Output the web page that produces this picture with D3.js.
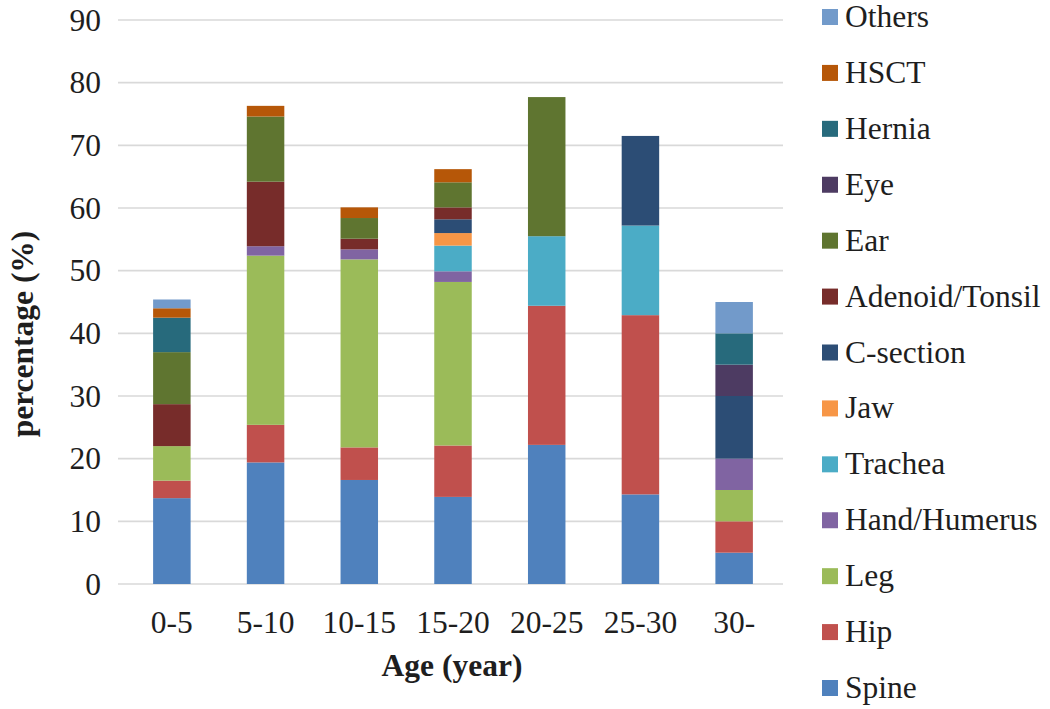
<!DOCTYPE html>
<html>
<head>
<meta charset="utf-8">
<script src="https://cdn.jsdelivr.net/npm/d3@7/dist/d3.min.js"></script>
<style>
  html, body { margin: 0; padding: 0; background: #fff; }
  svg { display: block; }
</style>
</head>
<body>
<svg id="chart" width="1050" height="709"></svg>
<script>
// ---- data (percent) ----
const categories = ["0-5", "5-10", "10-15", "15-20", "20-25", "25-30", "30-"];
const seriesNames = ["Spine", "Hip", "Leg", "Hand/Humerus", "Trachea", "Jaw", "C-section",
                     "Adenoid/Tonsil", "Ear", "Eye", "Hernia", "HSCT", "Others"];
const spine    = [13.7, 19.4, 16.6, 13.9, 22.2, 14.3, 5.0];
const hip      = [2.8, 6.0, 5.2, 8.2, 22.2, 28.6, 5.0];
const leg      = [5.5, 27.0, 30.0, 26.1, 0, 0, 5.0];
const hand     = [0, 1.5, 1.6, 1.7, 0, 0, 5.0];
const trachea  = [0, 0, 0, 4.1, 11.1, 14.3, 0];
const jaw      = [0, 0, 0, 2.0, 0, 0, 0];
const csection = [0, 0, 0, 2.2, 0, 14.3, 10.0];
const adenoid  = [6.7, 10.3, 1.7, 1.9, 0, 0, 0];
const ear      = [8.3, 10.4, 3.3, 4.0, 22.2, 0, 0];
const eye      = [0, 0, 0, 0, 0, 0, 5.0];
const hernia   = [5.5, 0, 0, 0, 0, 0, 5.0];
const hsct     = [1.5, 1.7, 1.7, 2.1, 0, 0, 0];
const others   = [1.4, 0, 0, 0, 0, 0, 5.0];
const yTicks   = [0, 10, 20, 30, 40, 50, 60, 70, 80, 90];

const seriesValues = [spine, hip, leg, hand, trachea, jaw, csection, adenoid, ear, eye, hernia, hsct, others];
const colors = ["#4F81BD", "#C0504D", "#9BBB59", "#8064A2", "#4BACC6", "#F79646", "#2C4D75",
                "#772C2A", "#5F7530", "#4D3B62", "#276A7C", "#B65708", "#729ACA"];

const rows = categories.map((c, i) => {
  const r = { cat: c };
  seriesNames.forEach((s, j) => r[s] = seriesValues[j][i]);
  return r;
});

const FONT = '"Liberation Serif", "Times New Roman", "Nimbus Roman", serif';
const FS = 31.5;
const TXT = "#1e1e1e";

const svg = d3.select("#chart");
const plotLeft = 118, plotRight = 783;

const x = d3.scaleBand().domain(categories).range([125, 781]).paddingInner(0.6).paddingOuter(0.3);
const y = d3.scaleLinear().domain([0, 90]).range([584, 20]);
const color = d3.scaleOrdinal().domain(seriesNames).range(colors);

// gridlines
svg.append("g").selectAll("line").data(yTicks).join("line")
  .attr("x1", plotLeft).attr("x2", plotRight)
  .attr("y1", d => y(d)).attr("y2", d => y(d))
  .attr("stroke", "#d9d9d9").attr("stroke-width", 1.6);

// y axis labels
const yAxis = d3.axisLeft(y).tickValues(yTicks).tickSize(0).tickPadding(0);
const gy = svg.append("g").attr("transform", "translate(101,0)").call(yAxis)
  .attr("font-family", FONT).attr("font-size", FS);
gy.select(".domain").remove();
gy.selectAll("text").attr("fill", TXT);

// bars
const stacked = d3.stack().keys(seriesNames)(rows);
svg.append("g").selectAll("g").data(stacked).join("g")
  .attr("fill", d => color(d.key))
  .selectAll("rect").data(d => d).join("rect")
  .attr("x", d => x(d.data.cat))
  .attr("width", x.bandwidth())
  .attr("y", d => y(d[1]))
  .attr("height", d => Math.max(0, y(d[0]) - y(d[1])));

// x axis labels
const xAxis = d3.axisBottom(x).tickSize(0).tickPadding(0);
const gx = svg.append("g").attr("transform", "translate(0,611)").call(xAxis)
  .attr("font-family", FONT).attr("font-size", FS);
gx.select(".domain").remove();
gx.selectAll("text").attr("fill", TXT);

// axis titles
svg.append("text").attr("x", 452).attr("y", 676).attr("text-anchor", "middle")
  .attr("font-family", FONT).attr("font-size", FS).attr("font-weight", "bold")
  .attr("fill", TXT).text("Age (year)");
svg.append("text").attr("transform", "translate(33,334) rotate(-90)").attr("text-anchor", "middle")
  .attr("font-family", FONT).attr("font-size", FS).attr("font-weight", "bold")
  .attr("fill", TXT).text("percentage (%)");

// legend
const legendNames = seriesNames.slice().reverse();
const ly = d3.scalePoint().domain(legendNames).range([17, 688]);
const lg = svg.append("g").attr("font-family", FONT).attr("font-size", FS)
  .selectAll("g").data(legendNames).join("g")
  .attr("transform", d => `translate(822,${ly(d)})`);
lg.append("rect").attr("x", 0).attr("y", -8).attr("width", 16).attr("height", 16).attr("fill", d => color(d));
lg.append("text").attr("x", 23).attr("y", 10).attr("fill", TXT).text(d => d);
</script>
</body>
</html>
